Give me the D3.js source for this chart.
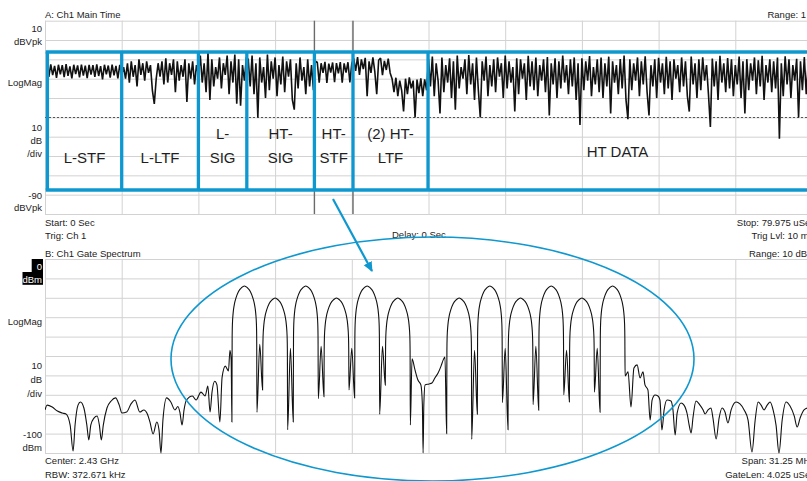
<!DOCTYPE html>
<html><head><meta charset="utf-8">
<script src="https://cdn.jsdelivr.net/npm/d3@7"></script>
<style>
body{margin:0;background:#fff;overflow:hidden}
svg text{font-family:"Liberation Sans",Arial,sans-serif}
</style>
</head><body>
<svg id="c" width="807" height="481"></svg>
<script>
// ---------------- DATA ----------------
// Panel A: time-domain magnitude (dBVpk), sampled every 0.2 µs, per 802.11n field
const sampleStep = 0.2; // µs
const lstf = [-13,-19,-12.6,-18.2,-13.4,-19.6,-12.8,-17.8,-13,-19.2,
  -12.5,-18.5,-13.6,-19.8,-12.8,-17.6,-13.1,-19.3,-12.7,-18.4,
  -13.3,-19.7,-12.9,-17.9,-13,-19.1,-12.6,-18.6,-13.5,-20.4,
  -12.8,-17.7,-13.2,-19.4,-12.7,-18.3,-13.4,-19.8,-12.9,-18];
const lltf = [-14,-20,-12,-22,-11,-19,-13,-24,-10,-18,
  -12,-21,-11,-17,-13,-26,-33,-20,-12,-19,
  -11,-23,-9.5,-22,-12,-18,-10,-27,-11,-21,
  -13,-19,-10,-32,-12,-20,-11,-23,-13,-18];
const lsig = [-8,-22,-12,-27,-6.5,-31,-10,-24,-14,-20,
  -9,-25,-12,-18,-8,-28,-11,-22,-7.5,-33,
  -10,-34,-13,-21,-9];
const htsig = [-10,-24,-8,-28,-12,-40,-9,-22,-14,-30,
  -7.5,-26,-11,-20,-9,-29,-13,-23,-8.5,-27,
  -11,-19,-10,-31,-36,-12,-25,-9,-21,-14,
  -28,-10,-24,-13,-26,-11];
const htstf = [-11.5,-22,-12,-17,-11.3,-22.2,-12.2,-16.8,-11.6,-21.8,
  -11.9,-17.2,-11.4,-22.1,-12.1,-16.9,-11.5,-21.9,-12];
const htltf1 = [-9.5,-16,-8.8,-18,-10,-15,-9.2,-29,-11,-17,
  -9,-16.4,-28,-10.5,-9.3,-18.2,-10.8,-15.5,-9.6,-17];
const htltf2 = [-20,-27,-19.5,-29,-21,-26,-37,-20,-28,-19.3,
  -25,-21,-40,-20.5,-27.5,-19.8,-29,-20.3,-26];
const htdata = [
  -10,-24,-8.5,-29,-12,-21,-38,-9,-27,-13,
  -22,-9.5,-30,-11,-36,-8,-25,-14,-20,-10,
  -28,-7.8,-23,-12,-31,-9,-26,-40,-11,-21,
  -8.5,-29,-13,-24,-10,-27,-9,-19,-12,-30,
  -8,-25,-11,-22,-14,-37,-9.5,-28,-10,-20,
  -12,-31,-8.2,-24,-11,-26,-9,-29,-13,-21,
  -10,-27,-8.8,-39,-12,-23,-9.4,-30,-11,-25,
  -8,-22,-13,-28,-10,-24,-9,-31,-12,-44,
  -9.5,-26,-11,-21,-8.3,-29,-14,-23,-10,-27,
  -9,-30,-12,-24,-8.6,-38,-11,-22,-13,-28,
  -9.8,-25,-8,-31,-41,-10,-26,-12,-21,-9,
  -29,-11,-23,-8.4,-27,-39,-13,-24,-10,-30,
  -9.2,-22,-12,-28,-8.7,-25,-11,-31,-10,-20,
  -13,-27,-9,-24,-11,-29,-37,-8.5,-23,-12,
  -30,-10,-26,-8.9,-21,-13,-28,-45,-9.6,-24,
  -11,-31,-8.1,-22,-12,-27,-9.3,-25,-10,-29,
  -13,-23,-8.6,-30,-11,-38,-9.9,-26,-12,-21,
  -9,-28,-10.5,-24,-8.2,-31,-13,-22,-10,-27,
  -11,-25,-9,-51,-12,-29,-8.4,-23,-10,-30,
  -13,-21,-9.7,-40,-11,-26,-8.8,-28,-12,-24,-10];
const segmentStarts = [0.2, 8.2, 16.2, 21.2, 28.4, 32.2, 36.2, 40.0]; // µs
const segmentData = [lstf, lltf, lsig, htsig, htstf, htltf1, htltf2, htdata];

// Field annotation boxes (µs boundaries) and names
const fieldEdges = [0.25, 8, 16, 21.05, 28.1, 32.125, 39.95, 79.7];
const fieldNames = [["L-STF"],["L-LTF"],["L-","SIG"],["HT-","SIG"],["HT-","STF"],["(2) HT-","LTF"],["HT DATA"]];
const gateStart = 28.1, gateLen = 4.025; // µs
const trigLevel = -40; // dBV (10 mV)

// Panel B: gate spectrum, [offset from 2.43 GHz in MHz, dBm]
const spectrumLeft = [
  [-15.625,-77.8],[-15.54,-75.3],[-15.33,-76.3],[-15.12,-78.4],[-14.92,-79.4],[-14.77,-79.9],[-14.6,-85.6],[-14.48,-99],[-14.4,-85.6],[-14.28,-75.3],[-14.18,-73.7],[-14.04,-76.8],[-13.92,-85.6],[-13.84,-93.3],[-13.76,-85.6],[-13.63,-82],[-13.5,-80.9],[-13.41,-85.6],[-13.33,-93.3],[-13.25,-85.6],[-13.1,-76.8],[-12.93,-73.2],[-12.75,-71.6],[-12.6,-75.3],[-12.49,-79.4],[-12.3,-78.9],[-12.12,-74.7],[-11.96,-72.7],[-11.76,-78.9],[-11.6,-77.8],[-11.45,-80],[-11.35,-84],[-11.22,-90.2],[-11.07,-84],[-10.98,-88.1],[-10.9,-100],[-10.82,-83],[-10.67,-71.6],[-10.5,-73.7],[-10.33,-77.8],[-10.21,-76],[-10.13,-78.9],[-10.04,-85.6],[-9.96,-77.8],[-9.86,-72.7],[-9.62,-70.6],[-9.47,-72.7],[-9.27,-68.6],[-9.1,-70.6],[-8.99,-65.5],[-8.9,-78.9],[-8.82,-68.6],[-8.71,-63],[-8.62,-64.9],[-8.5,-84],[-8.41,-61],[-8.28,-55.2],[-8.15,-57.7],[-8.09,-47],[-8.04,-52],[-8.01,-84]];
const spectrumMain = [
  [-8,-41],[-7.99,-33.9],[-7.96,-27.9],[-7.91,-23.4],[-7.84,-19.9],[-7.74,-16.7],[-7.62,-14.8],[-7.5,-13.9],[-7.38,-14.8],[-7.26,-16.7],[-7.16,-19.9],[-7.09,-23.4],[-7.04,-27.9],[-7.01,-33.9],[-7,-41],
  [-6.99,-79],[-6.875,-44],[-6.76,-67.5],
  [-6.75,-47.1],[-6.74,-40.1],[-6.71,-34.1],[-6.66,-29.6],[-6.59,-26.1],[-6.49,-22.9],[-6.37,-21],[-6.25,-20.1],[-6.13,-21],[-6.01,-22.9],[-5.91,-26.1],[-5.84,-29.6],[-5.79,-34.1],[-5.76,-40.1],[-5.75,-47.1],
  [-5.74,-88],[-5.625,-46],[-5.51,-84],
  [-5.5,-41],[-5.49,-33.9],[-5.46,-27.9],[-5.41,-23.4],[-5.34,-19.9],[-5.24,-16.7],[-5.12,-14.8],[-5,-13.9],[-4.88,-14.8],[-4.76,-16.7],[-4.66,-19.9],[-4.59,-23.4],[-4.54,-27.9],[-4.51,-33.9],[-4.5,-41],
  [-4.49,-72],[-4.375,-45],[-4.26,-71],
  [-4.25,-47.1],[-4.24,-40.1],[-4.21,-34.1],[-4.16,-29.6],[-4.09,-26.1],[-3.99,-22.9],[-3.87,-21],[-3.75,-20.1],[-3.63,-21],[-3.51,-22.9],[-3.41,-26.1],[-3.34,-29.6],[-3.29,-34.1],[-3.26,-40.1],[-3.25,-47.1],
  [-3.24,-67.5],[-3.125,-46],[-3.01,-71.6],
  [-3,-41],[-2.99,-33.9],[-2.96,-27.9],[-2.91,-23.4],[-2.84,-19.9],[-2.74,-16.7],[-2.62,-14.8],[-2.5,-13.9],[-2.38,-14.8],[-2.26,-16.7],[-2.16,-19.9],[-2.09,-23.4],[-2.04,-27.9],[-2.01,-33.9],[-2,-41],
  [-1.99,-80],[-1.875,-45],[-1.76,-65],
  [-1.75,-47.1],[-1.74,-40.1],[-1.71,-34.1],[-1.66,-29.6],[-1.59,-26.1],[-1.49,-22.9],[-1.37,-21],[-1.25,-20.1],[-1.13,-21],[-1.01,-22.9],[-0.91,-26.1],[-0.84,-29.6],[-0.79,-34.1],[-0.76,-40.1],[-0.75,-47.1],
  [-0.74,-85.6],[-0.67,-51.5],[-0.55,-57.2],[-0.43,-62.4],[-0.31,-64.9],[-0.25,-75],[-0.22,-100],[-0.19,-75],[-0.14,-64.9],[0.02,-64.4],[0.14,-63.9],[0.26,-61.3],[0.39,-58.8],[0.51,-55.2],[0.6,-52],[0.67,-50.5],[0.74,-90],
  [0.75,-47.1],[0.76,-40.1],[0.79,-34.1],[0.84,-29.6],[0.91,-26.1],[1.01,-22.9],[1.13,-21],[1.25,-20.1],[1.37,-21],[1.49,-22.9],[1.59,-26.1],[1.66,-29.6],[1.71,-34.1],[1.74,-40.1],[1.75,-47.1],
  [1.76,-93],[1.875,-47],[1.99,-80],
  [2,-41],[2.01,-33.9],[2.04,-27.9],[2.09,-23.4],[2.16,-19.9],[2.26,-16.7],[2.38,-14.8],[2.5,-13.9],[2.62,-14.8],[2.74,-16.7],[2.84,-19.9],[2.91,-23.4],[2.96,-27.9],[2.99,-33.9],[3,-41],
  [3.01,-74],[3.125,-46],[3.24,-88],
  [3.25,-47.1],[3.26,-40.1],[3.29,-34.1],[3.34,-29.6],[3.41,-26.1],[3.51,-22.9],[3.63,-21],[3.75,-20.1],[3.87,-21],[3.99,-22.9],[4.09,-26.1],[4.16,-29.6],[4.21,-34.1],[4.24,-40.1],[4.25,-47.1],
  [4.26,-75],[4.375,-45],[4.49,-78],
  [4.5,-41],[4.51,-33.9],[4.54,-27.9],[4.59,-23.4],[4.66,-19.9],[4.76,-16.7],[4.88,-14.8],[5,-13.9],[5.12,-14.8],[5.24,-16.7],[5.34,-19.9],[5.41,-23.4],[5.46,-27.9],[5.49,-33.9],[5.5,-41],
  [5.51,-70],[5.625,-47],[5.74,-73.7],
  [5.75,-47.1],[5.76,-40.1],[5.79,-34.1],[5.84,-29.6],[5.91,-26.1],[6.01,-22.9],[6.13,-21],[6.25,-20.1],[6.37,-21],[6.49,-22.9],[6.59,-26.1],[6.66,-29.6],[6.71,-34.1],[6.74,-40.1],[6.75,-47.1],
  [6.76,-68.6],[6.875,-46],[6.99,-79],
  [7,-41],[7.01,-33.9],[7.04,-27.9],[7.09,-23.4],[7.16,-19.9],[7.26,-16.7],[7.38,-14.8],[7.5,-13.9],[7.62,-14.8],[7.74,-16.7],[7.84,-19.9],[7.91,-23.4],[7.96,-27.9],[7.99,-33.9],[8,-41]];
const spectrumRight = [
  [8.01,-60.3],[8.13,-58.2],[8.25,-76.3],[8.37,-56.2],[8.5,-54.6],[8.62,-61.3],[8.74,-58.2],[8.82,-64.9],[8.94,-67.5],[9.03,-83],[9.11,-72.7],[9.23,-70.1],[9.35,-70.6],[9.43,-72.7],[9.51,-88.1],[9.6,-77.8],[9.72,-72.7],[9.88,-73.2],[9.96,-77.8],[10.05,-90.7],[10.13,-79.4],[10.29,-74.2],[10.41,-75.3],[10.54,-79.9],[10.62,-85.6],[10.7,-89.7],[10.78,-81.4],[10.9,-73.2],[11.06,-75.3],[11.19,-77.8],[11.27,-79.9],[11.39,-77.8],[11.51,-76.8],[11.59,-82],[11.72,-92.8],[11.84,-82],[11.96,-76.8],[12.08,-78.9],[12.2,-84.5],[12.33,-77.8],[12.53,-73.7],[12.69,-74.7],[12.86,-77.8],[13.02,-83],[13.18,-99.5],[13.31,-83],[13.43,-73.7],[13.55,-75.3],[13.67,-77.8],[13.8,-75.3],[13.92,-73.7],[14.04,-77.8],[14.16,-85.6],[14.28,-100],[14.41,-83],[14.57,-73.7],[14.73,-75.8],[14.9,-80.9],[15.02,-86.6],[15.14,-82],[15.3,-77.8],[15.47,-76.8],[15.625,-77.8]];

// Grid ticks
const timeTicks = [0,8,16,24,32,40,48,56,64,72,80];
const levelTicksA = [-90,-80,-70,-60,-50,-40,-30,-20,-10,0,10];
const freqTicks = [-15.625,-12.5,-9.375,-6.25,-3.125,0,3.125,6.25,9.375,12.5,15.625];
const levelTicksB = [-100,-90,-80,-70,-60,-50,-40,-30,-20,-10,0];

// Text
const textA = {title:"A: Ch1 Main Time", range:"Range: 1 V", top:["10","dBVpk"], mid:"LogMag", scale:["10","dB","/div"], bot:["-90","dBVpk"],
  start:"Start: 0  Sec", trig:"Trig: Ch 1", delay:"Delay: 0  Sec", stop:"Stop: 79.975 uSec", trigLvl:"Trig Lvl: 10 mV"};
const textB = {title:"B: Ch1 Gate Spectrum", range:"Range: 10 dBm", top:["0","dBm"], mid:"LogMag", scale:["10","dB","/div"], bot:["-100","dBm"],
  center:"Center: 2.43 GHz", rbw:"RBW: 372.671 kHz", span:"Span: 31.25 MHz", gate:"GateLen: 4.025 uSec"};

// ---------------- DRAWING ----------------
const svg = d3.select("#c");
const gridColor = "#d2d2d2", txtColor = "#222", blue = "#0e98cf";

const xT = d3.scaleLinear().domain([0,80]).range([45,812]);
const yT = d3.scaleLinear().domain([-90,10]).range([214,20.7]);
const xF = d3.scaleLinear().domain([-15.625,15.625]).range([45,812]);
const yF = d3.scaleLinear().domain([-100,0]).range([453,259]);

function grid(xs, ys, xt, yt){
  const [x0,x1] = xs.range(), [y0,y1] = ys.range();
  const g = svg.append("g");
  g.append("g").attr("transform",`translate(0,${y0})`)
    .call(d3.axisBottom(xs).tickValues(xt).tickSize(-(y0-y1)).tickFormat(""))
    .call(a=>a.select(".domain").remove())
    .call(a=>a.selectAll("line").attr("stroke",gridColor));
  g.append("g").attr("transform",`translate(${x0},0)`)
    .call(d3.axisLeft(ys).tickValues(yt).tickSize(-(x1-x0)).tickFormat(""))
    .call(a=>a.select(".domain").remove())
    .call(a=>a.selectAll("line").attr("stroke",gridColor));
}
grid(xT, yT, timeTicks, levelTicksA);
grid(xF, yF, freqTicks, levelTicksB);

function label(x,y,s,anchor,opt){
  opt = opt||{};
  return svg.append("text").attr("x",x).attr("y",y).attr("text-anchor",anchor||"start")
    .attr("font-size",opt.size||9.5).attr("fill",opt.fill||txtColor).text(s);
}

// trigger level dotted line
svg.append("line").attr("x1",xT(0)).attr("x2",xT(80)).attr("y1",Math.round(yT(trigLevel))+0.5).attr("y2",Math.round(yT(trigLevel))+0.5)
  .attr("stroke","#555").attr("stroke-dasharray","2,2");

// gate markers
[gateStart, gateStart+gateLen].forEach(t=>{
  svg.append("line").attr("x1",xT(t)).attr("x2",xT(t)).attr("y1",yT(10)).attr("y2",yT(-90))
    .attr("stroke","#6a6a6a").attr("stroke-width",1.4);
});

// time trace
const tracePts = [];
segmentData.forEach((arr,k)=>arr.forEach((v,i)=>tracePts.push([segmentStarts[k]+i*sampleStep, v])));
svg.append("path").datum(tracePts)
  .attr("d", d3.line().x(d=>xT(d[0])).y(d=>yT(d[1])))
  .attr("fill","none").attr("stroke","#111").attr("stroke-width",1.6).attr("stroke-linejoin","bevel");

// spectrum trace
const spectrum = spectrumLeft.concat(spectrumMain, spectrumRight);
svg.append("clipPath").attr("id","clipB").append("rect").attr("x",45).attr("y",259).attr("width",767).attr("height",195);
svg.append("path").datum(spectrum).attr("clip-path","url(#clipB)")
  .attr("d", d3.line().x(d=>xF(d[0])).y(d=>yF(Math.max(-100,d[1]))).curve(d3.curveMonotoneX))
  .attr("fill","none").attr("stroke","#111").attr("stroke-width",1.1);

// annotation boxes (panel A)
const boxTop = 52, boxBot = 190;
const ann = svg.append("g");
ann.append("line").attr("x1",xT(fieldEdges[0])-1.7).attr("x2",xT(fieldEdges[fieldEdges.length-1])+2)
  .attr("y1",boxTop).attr("y2",boxTop).attr("stroke",blue).attr("stroke-width",3.3);
ann.append("line").attr("x1",xT(fieldEdges[0])-1.7).attr("x2",xT(fieldEdges[fieldEdges.length-1])+2)
  .attr("y1",boxBot).attr("y2",boxBot).attr("stroke",blue).attr("stroke-width",3.3);
fieldEdges.forEach(t=>{
  ann.append("line").attr("x1",xT(t)).attr("x2",xT(t)).attr("y1",boxTop).attr("y2",boxBot)
    .attr("stroke",blue).attr("stroke-width",3.3);
});
fieldNames.forEach((lines,i)=>{
  const cx = (xT(fieldEdges[i]) + Math.min(807, xT(fieldEdges[i+1])))/2;
  if(lines.length===1){
    label(cx, i===6?157:163, lines[0], "middle", {size:15, fill:"#1e1e1e"});
  } else {
    label(cx, 139, lines[0], "middle", {size:15, fill:"#1e1e1e"});
    label(cx, 163, lines[1], "middle", {size:15, fill:"#1e1e1e"});
  }
});

// Panel A texts
label(45,18,textA.title);
label(815,18,textA.range,"end");
label(42,31.5,textA.top[0],"end"); label(42,45,textA.top[1],"end");
label(42,85.5,textA.mid,"end");
label(42,130.5,textA.scale[0],"end"); label(42,143.5,textA.scale[1],"end"); label(42,156.5,textA.scale[2],"end");
label(42,199,textA.bot[0],"end"); label(42,210.5,textA.bot[1],"end");
label(45,225.5,textA.start); label(45,238.5,textA.trig);
label(392,238,textA.delay);
label(815,225.5,textA.stop,"end"); label(815,238.5,textA.trigLvl,"end");

// Panel B texts
label(45,256.5,textB.title);
label(815,256.5,textB.range,"end");
svg.append("rect").attr("x",31.7).attr("y",259).attr("width",11.3).attr("height",13.5).attr("fill","#000");
svg.append("rect").attr("x",22.5).attr("y",272).attr("width",20.5).attr("height",12.8).attr("fill","#000");
label(42,270,textB.top[0],"end",{fill:"#fff"}); label(42,283,textB.top[1],"end",{fill:"#fff"});
label(42,325,textB.mid,"end");
label(42,368.5,textB.scale[0],"end"); label(42,382.5,textB.scale[1],"end"); label(42,396.5,textB.scale[2],"end");
label(42,437.5,textB.bot[0],"end"); label(42,450.5,textB.bot[1],"end");
label(45,464,textB.center); label(45,477.5,textB.rbw);
label(815,464,textB.span,"end"); label(815,477.5,textB.gate,"end");

// ellipse highlight and arrow
svg.append("ellipse").attr("cx",432.5).attr("cy",359).attr("rx",261.5).attr("ry",122)
  .attr("fill","none").attr("stroke",blue).attr("stroke-width",1.6);
const defs = svg.append("defs");
defs.append("marker").attr("id","ah").attr("viewBox","0 0 10 10").attr("refX",9).attr("refY",5)
  .attr("markerWidth",10).attr("markerHeight",10).attr("markerUnits","userSpaceOnUse").attr("orient","auto")
  .append("path").attr("d","M0,0.5 L10,5 L0,9.5 z").attr("fill",blue);
svg.append("line").attr("x1",333).attr("y1",199).attr("x2",372).attr("y2",271)
  .attr("stroke",blue).attr("stroke-width",2.2).attr("marker-end","url(#ah)");
</script>
</body></html>
